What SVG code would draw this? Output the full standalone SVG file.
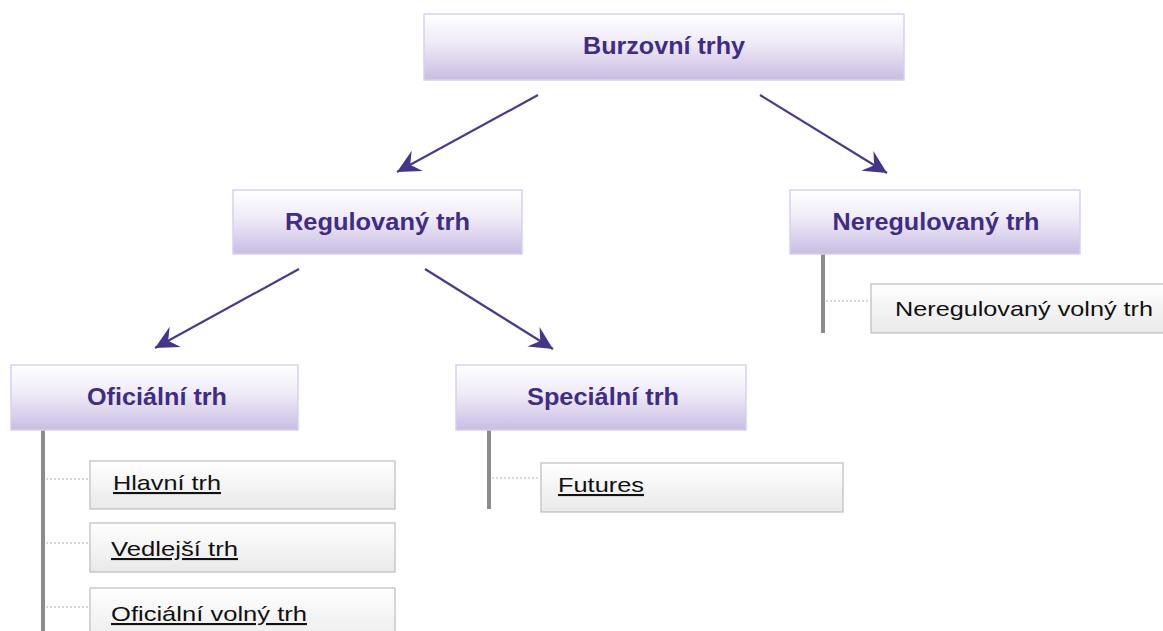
<svg xmlns="http://www.w3.org/2000/svg" width="1163" height="631" viewBox="0 0 1163 631">
<defs>
<linearGradient id="gHead" x1="0" y1="0" x2="0" y2="1">
<stop offset="0" stop-color="#ffffff"/>
<stop offset="0.45" stop-color="#eeeaf7"/>
<stop offset="1" stop-color="#c9bce2"/>
</linearGradient>
<linearGradient id="gLeaf" x1="0" y1="0" x2="0" y2="1">
<stop offset="0" stop-color="#ffffff"/>
<stop offset="1" stop-color="#e9e9e9"/>
</linearGradient>
<marker id="arr" markerUnits="userSpaceOnUse" markerWidth="30" markerHeight="30" refX="0" refY="0" viewBox="-22 -12 26 24" orient="auto">
<path d="M0,0 L-20,-10 L-13,0 L-20,10 Z" fill="#46348a"/>
</marker>
<style>
.head rect{fill:url(#gHead);stroke:#d8cfef;stroke-width:1.5}
.head text{font-family:"Liberation Sans",Arial,sans-serif;font-weight:bold;font-size:24px;fill:#3f2c84;text-anchor:middle}
.leaf rect{fill:url(#gLeaf);stroke:#bcbcbc;stroke-width:1.2}
.leaf text{font-family:"Liberation Sans",Arial,sans-serif;font-size:21px;fill:#111}
.leaf text.u{text-decoration:underline}
.arrow{stroke:#4b3a8c;stroke-width:2.2;fill:none;marker-end:url(#arr)}
.trunk{stroke:#8c8c8c;stroke-width:4;fill:none}
.dot{stroke:#b0b0b0;stroke-width:1;stroke-dasharray:2,2;fill:none}
</style>
</defs>
<rect width="1163" height="631" fill="#ffffff"/>
<g id="connectors">
<line class="arrow" x1="538" y1="95" x2="397" y2="172"/>
<line class="arrow" x1="760" y1="95" x2="887" y2="173"/>
<line class="arrow" x1="299" y1="269" x2="155" y2="348"/>
<line class="arrow" x1="425" y1="269" x2="553" y2="349"/>
<line class="trunk" x1="43" y1="430" x2="43" y2="631"/>
<line class="trunk" x1="489" y1="430" x2="489" y2="509"/>
<line class="trunk" x1="823" y1="254" x2="823" y2="333"/>
<line class="dot" x1="46" y1="479" x2="90" y2="479"/>
<line class="dot" x1="46" y1="543" x2="90" y2="543"/>
<line class="dot" x1="46" y1="607" x2="90" y2="607"/>
<line class="dot" x1="492" y1="478" x2="541" y2="478"/>
<line class="dot" x1="826" y1="301" x2="871" y2="301"/>
</g>
<g id="burzovni" class="head">
<rect x="424" y="14" width="480" height="66"/>
<text x="664" y="54" textLength="162" lengthAdjust="spacingAndGlyphs">Burzovní trhy</text>
</g>
<g id="regulovany" class="head">
<rect x="233" y="190" width="289" height="64"/>
<text x="377.5" y="230" textLength="185" lengthAdjust="spacingAndGlyphs">Regulovaný trh</text>
</g>
<g id="neregulovany" class="head">
<rect x="790" y="190" width="290" height="64"/>
<text x="936" y="230" textLength="207" lengthAdjust="spacingAndGlyphs">Neregulovaný trh</text>
</g>
<g id="oficialni" class="head">
<rect x="11" y="365" width="287" height="65"/>
<text x="157" y="405" textLength="140" lengthAdjust="spacingAndGlyphs">Oficiální trh</text>
</g>
<g id="specialni" class="head">
<rect x="456" y="365" width="290" height="65"/>
<text x="603" y="405" textLength="152" lengthAdjust="spacingAndGlyphs">Speciální trh</text>
</g>
<g id="hlavni" class="leaf">
<rect x="90" y="461" width="305" height="48"/>
<text class="u" x="113" y="490" textLength="108" lengthAdjust="spacingAndGlyphs">Hlavní trh</text>
</g>
<g id="vedlejsi" class="leaf">
<rect x="90" y="523" width="305" height="49"/>
<text class="u" x="111" y="556" textLength="127" lengthAdjust="spacingAndGlyphs">Vedlejší trh</text>
</g>
<g id="oficialni-volny" class="leaf">
<rect x="90" y="588" width="305" height="60"/>
<text class="u" x="111" y="621" textLength="196" lengthAdjust="spacingAndGlyphs">Oficiální volný trh</text>
</g>
<g id="futures" class="leaf">
<rect x="541" y="463" width="302" height="49"/>
<text class="u" x="558" y="492" textLength="86" lengthAdjust="spacingAndGlyphs">Futures</text>
</g>
<g id="neregulovany-volny" class="leaf">
<rect x="871" y="284" width="300" height="49"/>
<text x="895" y="316" textLength="258" lengthAdjust="spacingAndGlyphs">Neregulovaný volný trh</text>
</g>
</svg>
